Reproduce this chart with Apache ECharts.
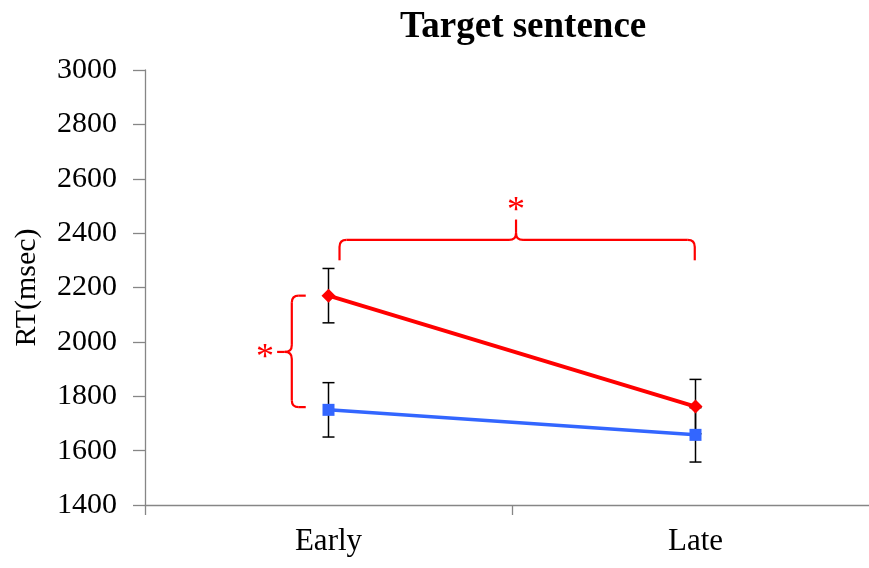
<!DOCTYPE html>
<html>
<head>
<meta charset="utf-8">
<script src="https://cdn.jsdelivr.net/npm/echarts@6/dist/echarts.min.js"></script>
<style>html,body{margin:0;padding:0;background:#fff}#c{width:869px;height:568px}</style>
</head>
<body>
<div id="c"></div>
<script>
// ---- data ----
var categories = ['Early', 'Late'];
var redValues = [2170, 1762];
var redErrors = [100, 100];
var blueValues = [1750, 1658];
var blueErrors = [100, 100];
var yTicks = [1400, 1600, 1800, 2000, 2200, 2400, 2600, 2800, 3000];
// significance brackets (x in category units, y in msec)
var topBracket = [0.03, 0.998, 2375, 2300, 2450, 0.511]; // x0, x1, yBar, yEnds, yPeak, xMid
var leftBracket = [-0.1, -0.062, 2170, 1760, -0.14, 1963]; // xBar, xArms, yTop, yBottom, xNub, yNub
var starTop = [0.511, 2505];
var starLeft = [-0.173, 1963];

var FONT = '"Liberation Serif","Times New Roman",serif';
var RED = '#ff0000', BLUE = '#3366ff';

function errData(vals, errs) {
  return vals.map(function (v, i) { return [i, v - errs[i], v + errs[i]]; });
}
function renderErr(params, api) {
  var x = api.value(0);
  var lo = api.coord([x, api.value(1)]);
  var hi = api.coord([x, api.value(2)]);
  var cap = 6;
  var st = { stroke: '#000', lineWidth: 1.5 };
  return { type: 'group', children: [
    { type: 'line', shape: { x1: lo[0], y1: lo[1], x2: hi[0], y2: hi[1] }, style: st },
    { type: 'line', shape: { x1: lo[0] - cap, y1: lo[1], x2: lo[0] + cap, y2: lo[1] }, style: st },
    { type: 'line', shape: { x1: hi[0] - cap, y1: hi[1], x2: hi[0] + cap, y2: hi[1] }, style: st }
  ]};
}
function seg(a, b, st) { return { type: 'line', shape: { x1: a[0], y1: a[1], x2: b[0], y2: b[1] }, style: st }; }
function qc(a, c, b, st) { return { type: 'bezierCurve', shape: { x1: a[0], y1: a[1], cpx1: c[0], cpy1: c[1], x2: b[0], y2: b[1] }, style: st }; }

function renderBrackets(params, api) {
  var st = { stroke: RED, lineWidth: 2.2, fill: null };
  var r = 7, els = [];
  // top bracket
  var L = api.coord([topBracket[0], topBracket[2]]);
  var R = api.coord([topBracket[1], topBracket[2]]);
  var yE = api.coord([0, topBracket[3]])[1];
  var yP = api.coord([0, topBracket[4]])[1];
  var xM = api.coord([topBracket[5], 0])[0];
  var yH = L[1];
  els.push(seg([L[0], yE], [L[0], yH + r], st));
  els.push(qc([L[0], yH + r], [L[0], yH], [L[0] + r, yH], st));
  els.push(seg([L[0] + r, yH], [xM - r, yH], st));
  els.push(qc([xM - r, yH], [xM, yH], [xM, yH - r], st));
  els.push(seg([xM, yH - r], [xM, yP], st));
  els.push(qc([xM + r, yH], [xM, yH], [xM, yH - r], st));
  els.push(seg([xM + r, yH], [R[0] - r, yH], st));
  els.push(qc([R[0] - r, yH], [R[0], yH], [R[0], yH + r], st));
  els.push(seg([R[0], yH + r], [R[0], yE], st));
  // left bracket
  var T = api.coord([leftBracket[0], leftBracket[2]]);
  var B = api.coord([leftBracket[0], leftBracket[3]]);
  var xA = api.coord([leftBracket[1], 0])[0];
  var N = api.coord([leftBracket[4], leftBracket[5]]);
  var xV = T[0];
  els.push(seg([xA, T[1]], [xV + r, T[1]], st));
  els.push(qc([xV + r, T[1]], [xV, T[1]], [xV, T[1] + r], st));
  els.push(seg([xV, T[1] + r], [xV, N[1] - r], st));
  els.push(qc([xV, N[1] - r], [xV, N[1]], [xV - r, N[1]], st));
  els.push(seg([xV - r, N[1]], [N[0], N[1]], st));
  els.push(qc([xV, N[1] + r], [xV, N[1]], [xV - r, N[1]], st));
  els.push(seg([xV, N[1] + r], [xV, B[1] - r], st));
  els.push(qc([xV, B[1] - r], [xV, B[1]], [xV + r, B[1]], st));
  els.push(seg([xV + r, B[1]], [xA, B[1]], st));
  // stars
  var s1 = api.coord(starTop), s2 = api.coord(starLeft);
  var ts = { text: '*', fill: RED, font: '36px ' + FONT, textAlign: 'center', textVerticalAlign: 'middle' };
  els.push({ type: 'text', x: s1[0], y: s1[1] + 7, style: Object.assign({}, ts) });
  els.push({ type: 'text', x: s2[0], y: s2[1] + 7, style: Object.assign({}, ts) });
  return { type: 'group', children: els };
}

var chart = echarts.init(document.getElementById('c'));
chart.setOption({
  animation: false,
  title: {
    text: 'Target sentence', left: 395, top: 4,
    textStyle: { fontFamily: FONT, fontSize: 37, fontWeight: 'bold', color: '#000' }
  },
  grid: { left: 145, width: 734, top: 70, bottom: 63, containLabel: false, outerBoundsMode: 'none' },
  xAxis: [{
    type: 'category', data: categories, boundaryGap: true,
    axisLine: { onZero: false, lineStyle: { color: '#868686', width: 1.3 } },
    axisTick: { show: true, length: 10, lineStyle: { color: '#868686', width: 1.3 } },
    axisLabel: { fontFamily: FONT, fontSize: 31, color: '#000', margin: 21 },
    splitLine: { show: false }
  }, {
    type: 'value', min: -0.5, max: 1.5, show: false, position: 'bottom'
  }],
  yAxis: {
    type: 'value', min: yTicks[0], max: yTicks[yTicks.length - 1], interval: 200,
    name: 'RT(msec)', nameLocation: 'middle', nameGap: 103,
    nameTextStyle: { fontFamily: FONT, fontSize: 30, color: '#000' },
    axisLine: { show: true, onZero: false, lineStyle: { color: '#868686', width: 1.3 } },
    axisTick: { show: true, length: 12, lineStyle: { color: '#868686', width: 1.3 } },
    axisLabel: { fontFamily: FONT, fontSize: 30, color: '#000', margin: 28,
      formatter: function (v) { return String(v); } },
    splitLine: { show: false }
  },
  series: [
    { type: 'custom', xAxisIndex: 0, renderItem: renderErr, data: errData(redValues, redErrors), z: 1 },
    { type: 'custom', xAxisIndex: 0, renderItem: renderErr, data: errData(blueValues, blueErrors), z: 1 },
    { type: 'line', xAxisIndex: 0, data: blueValues, symbol: 'rect', symbolSize: 12,
      lineStyle: { color: BLUE, width: 3.5 }, itemStyle: { color: BLUE }, z: 3 },
    { type: 'line', xAxisIndex: 0, data: redValues, symbol: 'diamond', symbolSize: [14, 14],
      lineStyle: { color: RED, width: 4 }, itemStyle: { color: RED }, z: 4 },
    { type: 'custom', xAxisIndex: 1, renderItem: renderBrackets, data: [[0, 0]], z: 5, clip: false }
  ]
});
</script>
</body>
</html>
